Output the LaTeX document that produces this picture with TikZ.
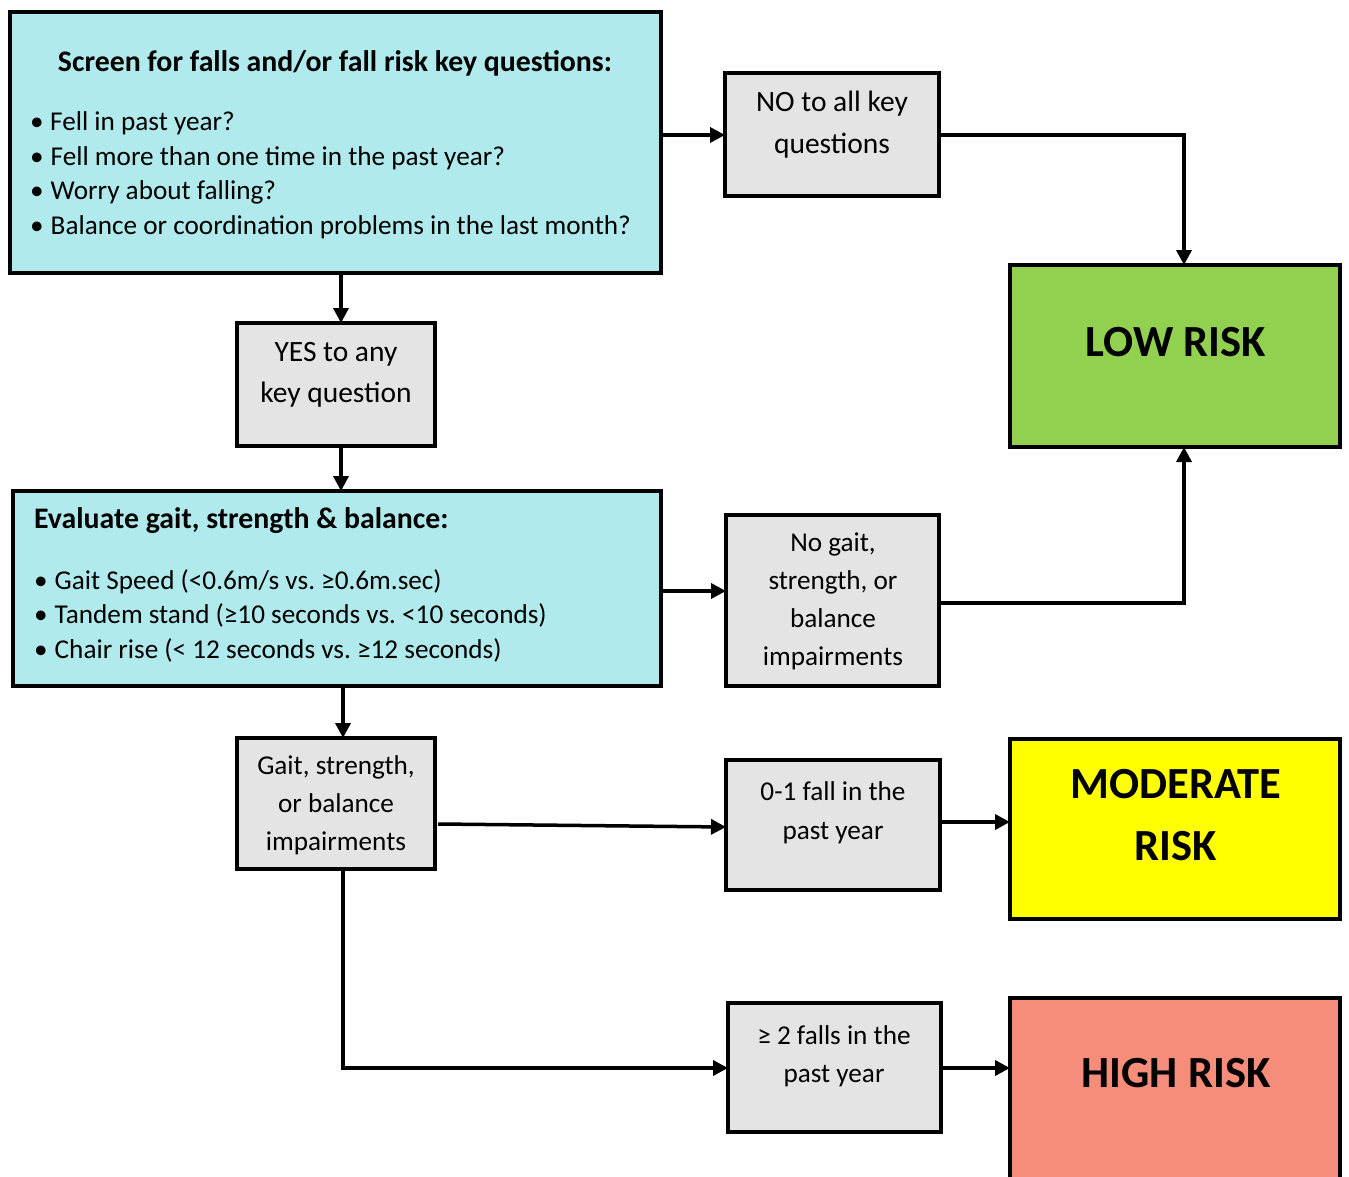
\documentclass[tikz,border=0pt]{standalone}
\usepackage{fontspec}
\setmainfont{Carlito}
\usetikzlibrary{arrows.meta}
\frenchspacing
\definecolor{cyanbox}{RGB}{177,234,236}
\definecolor{greybox}{RGB}{228,228,228}
\definecolor{greenbox}{RGB}{146,208,80}
\definecolor{yellowbox}{RGB}{255,255,0}
\definecolor{redbox}{RGB}{246,141,122}
\tikzset{
  box/.style={draw=black, line width=4pt, rectangle, inner sep=0pt, outer sep=0pt, anchor=north west},
  body/.style={font=\fontsize{27.2}{32}\selectfont, inner sep=0pt, anchor=mid},
  lead/.style={font=\fontsize{29.5}{34}\selectfont, inner sep=0pt, anchor=mid},
  head/.style={font=\fontsize{29.8}{34}\selectfont\bfseries, inner sep=0pt},
  big/.style={font=\fontsize{44.5}{50}\selectfont\bfseries, inner sep=0pt, anchor=mid},
  conn/.style={line width=3.5pt, -{Triangle[length=15pt,width=15pt]}},
}
\newcommand\mybox[6]{\node[box,fill=#6,minimum width={#4-#2},minimum height={#5-#3}] (#1) at (#2,#3) {};}
\begin{document}
\begin{tikzpicture}[x=1pt,y=-1pt]
\clip (0,0) rectangle (1349,1177);
\useasboundingbox (0,0) rectangle (1349,1177);
\fill[white] (0,0) rectangle (1349,1177);
% boxes (line centres)
\mybox{scr}{10}{12}{661}{273}{cyanbox}
\mybox{no}{725}{73}{939}{196}{greybox}
\mybox{low}{1010}{265}{1340}{447}{greenbox}
\mybox{yes}{237}{323}{435}{446}{greybox}
\mybox{eva}{13}{491}{661}{686}{cyanbox}
\mybox{nog}{726}{515}{939}{686}{greybox}
\mybox{gai}{237}{738}{435}{869}{greybox}
\mybox{one}{726}{760}{940}{890}{greybox}
\mybox{mod}{1010}{739}{1340}{919}{yellowbox}
\mybox{two}{728}{1003}{941}{1132}{greybox}
\mybox{hig}{1010}{998}{1340}{1200}{redbox}
% texts
\node[head,anchor=mid] (t1) at (335,69) {Screen for falls and/or fall risk key questions:};
\node[body,anchor=mid west] (b1) at (30,128) {\textbullet\hspace{6.5pt}Fell in past year?};
\node[body,anchor=mid west] (b2) at (30,163) {\textbullet\hspace{7pt}Fell more than one time in the past year?};
\node[body,anchor=mid west] (b3) at (30,197) {\textbullet\hspace{7pt}Worry about falling?};
\node[body,anchor=mid west] (b4) at (30,232) {\textbullet\hspace{7pt}Balance or coordination problems in the last month?};
\node[lead] (n1) at (832,109) {NO to all key};
\node[lead] (n2) at (832,151) {questions};
\node[big] (lowt) at (1176,354) {LOW RISK};
\node[lead] (y1) at (336,359) {YES to any};
\node[lead] (y2) at (336,400) {key question};
\node[head,anchor=mid west] (t2) at (34,526) {Evaluate gait, strength \& balance:};
\node[body,anchor=mid west] (e1) at (34,587) {\textbullet\hspace{7pt}Gait Speed (<0.6m/s vs. ≥0.6m.sec)};
\node[body,anchor=mid west] (e2) at (34,621) {\textbullet\hspace{7pt}Tandem stand (≥10 seconds vs. <10 seconds)};
\node[body,anchor=mid west] (e3) at (34,656) {\textbullet\hspace{7pt}Chair rise (< 12 seconds vs. ≥12 seconds)};
\node[body] (g1) at (833,549) {No gait,};
\node[body] (g2) at (833,587) {strength, or};
\node[body] (g3) at (833,625) {balance};
\node[body] (g4) at (833,663) {impairments};
\node[body] (i1) at (336,772) {Gait, strength,};
\node[body] (i2) at (336,810) {or balance};
\node[body] (i3) at (336,848) {impairments};
\node[body] (o1) at (833,798) {0-1 fall in the};
\node[body] (o2) at (833,837) {past year};
\node[big] (m1) at (1176,796) {MODERATE};
\node[big] (m2) at (1176,858) {RISK};
\node[body] (w1) at (834,1042) {≥ 2 falls in the};
\node[body] (w2) at (834,1080) {past year};
\node[big] (ht) at (1176,1085) {HIGH RISK};
% connectors
\draw[conn] (scr.east |- 0,135) -- (no.west |- 0,135);
\draw[conn] (no.east |- 0,135) -| (low.north -| 1184,0);
\draw[conn] (scr.south -| 341,0) -- (yes.north -| 341,0);
\draw[conn] (yes.south -| 341,0) -- (eva.north -| 341,0);
\draw[conn] (eva.east |- 0,591) -- (nog.west |- 0,591);
\draw[conn] (nog.east |- 0,603) -| (low.south -| 1184,0);
\draw[conn] (eva.south -| 343,0) -- (gai.north -| 343,0);
\draw[conn] ([xshift=3pt]gai.east |- 0,824) -- (one.west |- 0,827);
\draw[conn] (gai.south -| 343,0) |- (two.west |- 0,1068);
\draw[conn] (one.east |- 0,822) -- (mod.west |- 0,822);
\draw[conn] (two.east |- 0,1068) -- (hig.west |- 0,1068);
\end{tikzpicture}
\end{document}
